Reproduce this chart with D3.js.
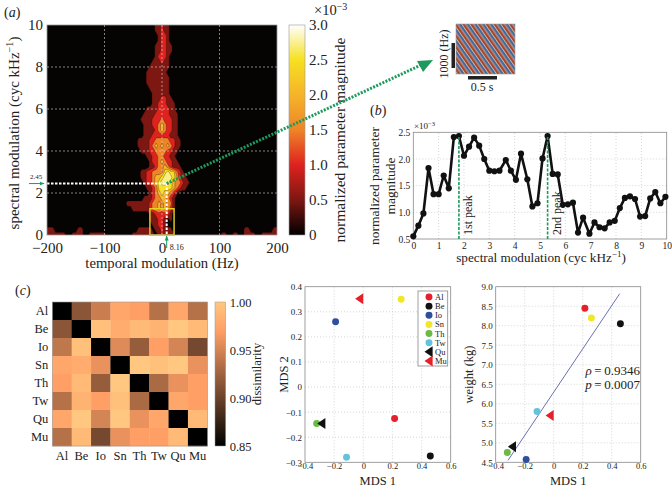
<!DOCTYPE html>
<html lang="en">
<head>
<meta charset="UTF-8">
<title>modulation chart</title>
<style>
  *{margin:0;padding:0;}
  body{background:#fff;}
  svg{display:block;}
  text{font-family:"Liberation Serif",serif;fill:#222;}
</style>
</head>
<body>
<div id="container"></div>
<script src="https://d3js.org/d3.v7.min.js"></script>
<script>
// panel a: levels in 0.5e-3 steps, rows from 10 down to 0 (0.25 step), columns -65..55 Hz (5 Hz step)
var coreHz = d3.range(-65, 60, 5)
var coreRows = [
  [0,0,0,0,0,0,0,0,0,0,0,1,1,2,1,1,0,0,0,0,0,0,0,0,0],
  [0,0,0,0,0,0,0,0,0,0,0,1,1,2,1,1,0,0,0,0,0,0,0,0,0],
  [0,0,0,0,0,0,0,0,0,0,0,0,1,2,2,1,0,0,0,0,0,0,0,0,0],
  [0,0,0,0,0,0,0,0,0,0,0,0,1,2,2,1,0,0,0,0,0,0,0,0,0],
  [0,0,0,0,0,0,0,0,0,0,0,1,1,2,2,1,1,0,0,0,0,0,0,0,0],
  [0,0,0,0,0,0,0,0,0,0,0,1,1,2,2,1,1,0,0,0,0,0,0,0,0],
  [0,0,0,0,0,0,0,0,0,0,0,1,2,2,2,1,0,0,0,0,0,0,0,0,0],
  [0,0,0,0,0,0,0,0,0,0,1,1,1,2,1,1,0,0,0,0,0,0,0,0,0],
  [0,0,0,0,0,0,0,0,0,1,1,1,1,1,1,1,0,0,0,0,0,0,0,0,0],
  [0,0,0,0,0,0,0,0,1,1,1,1,1,1,1,0,0,0,0,0,0,0,0,0,0],
  [0,0,0,0,0,0,0,0,1,1,1,1,1,1,1,1,0,0,0,0,0,0,0,0,0],
  [0,0,0,0,0,0,0,0,1,1,1,1,1,1,1,1,0,0,0,0,0,0,0,0,0],
  [0,0,0,0,0,0,0,0,0,1,1,1,1,1,1,1,0,0,0,0,0,0,0,0,0],
  [0,0,0,0,0,0,0,0,0,0,1,1,1,1,1,1,0,0,0,0,0,0,0,0,0],
  [0,0,0,0,0,0,0,0,0,0,1,1,1,2,2,1,1,0,0,0,0,0,0,0,0],
  [0,0,0,0,0,0,0,0,0,0,1,1,2,2,2,1,1,1,0,0,0,0,0,0,0],
  [0,0,0,0,0,0,0,0,1,1,1,1,2,2,2,2,1,1,0,0,0,0,0,0,0],
  [0,0,0,0,0,0,0,1,1,1,1,2,2,2,2,2,1,1,1,0,0,0,0,0,0],
  [0,0,0,0,0,0,1,1,1,1,2,2,2,3,2,2,2,1,1,0,0,0,0,0,0],
  [0,0,0,0,0,0,0,1,1,1,2,2,3,4,3,2,2,1,1,0,0,0,0,0,0],
  [0,0,0,0,0,0,0,1,1,1,1,2,3,4,3,2,2,1,1,0,0,0,0,0,0],
  [0,0,0,0,0,0,0,1,1,1,2,2,2,2,2,2,1,1,1,0,0,0,0,0,0],
  [0,0,0,0,0,1,1,1,1,2,2,3,3,3,3,3,2,2,1,1,0,0,0,0,0],
  [0,0,0,0,0,1,1,1,1,2,3,4,3,4,3,4,3,2,1,1,0,0,0,0,0],
  [0,0,0,0,0,0,1,1,1,2,2,3,3,3,3,2,2,1,1,0,0,0,0,0,0],
  [0,0,0,0,0,0,0,0,1,1,2,2,3,3,2,2,1,1,0,0,0,0,0,0,0],
  [0,0,0,0,0,0,0,0,0,1,2,2,3,4,3,2,2,1,1,0,0,0,0,0,0],
  [0,0,0,0,0,0,0,0,0,1,1,2,3,3,4,3,2,1,1,1,0,0,0,0,0],
  [0,0,0,0,0,0,1,1,2,2,3,3,3,3,5,6,5,5,3,2,1,0,0,0,0],
  [0,0,0,0,0,0,1,1,2,2,3,4,4,5,6,6,6,5,4,2,1,1,0,0,0],
  [0,0,0,0,0,0,0,1,2,2,3,4,5,6,6,6,5,4,3,3,2,1,1,0,0],
  [0,0,0,0,0,0,0,0,1,1,2,3,5,5,5,5,5,4,3,2,1,1,0,0,0],
  [0,0,0,0,0,0,0,0,0,1,2,3,4,5,4,4,3,2,1,0,0,0,0,0,0],
  [0,0,0,0,0,0,0,1,1,1,2,3,3,4,4,3,2,1,0,0,0,0,0,0,0],
  [0,1,1,1,1,1,1,1,1,2,3,3,4,3,4,3,3,1,0,0,0,0,0,0,0],
  [0,0,0,1,1,1,1,1,1,2,3,3,4,3,4,3,2,1,0,0,0,0,0,0,0],
  [0,0,0,0,0,0,0,0,0,1,1,2,2,2,2,2,1,0,0,0,0,0,0,0,0],
  [0,0,0,0,0,0,0,0,0,1,1,1,2,2,1,0,1,0,0,0,0,0,0,0,0],
  [0,0,0,0,0,0,0,0,0,0,1,1,2,2,1,0,0,0,0,0,0,0,0,0,0],
  [0,0,0,0,0,1,1,1,1,1,0,1,1,2,1,1,1,0,0,0,0,0,0,0,0],
  [0,0,0,1,1,1,1,1,1,1,1,0,1,2,1,1,1,1,0,0,0,0,0,0,0]
]
// low ridge along the bottom edge outside the core columns: rows of level 1 at each 10 Hz
var fringeHz = d3.range(-200, 210, 10)
var fringeTop = [2,2,1,1,0,1,2,0,1,1,1,0,0,0,0,0,0,0,0,0,0,0,0,0,0,0,0,0,0,0,0,1,0,1,0,2,1,0,1,1,2]

var timeTicks = [-200, -100, 0, 100, 200]
var freqTicks = [0, 2, 4, 6, 8, 10]
var barTicks = [0, 0.5, 1, 1.5, 2, 2.5, 3]
var bandThresholds = [0.25, 0.75, 1.25, 1.75, 2.25, 2.75]
var peakTime = 8.16
var peakFreq = 2.45

// panel b
var specX = [0,0.2,0.4,0.6,0.8,1,1.2,1.4,1.6,1.8,2,2.2,2.4,2.6,2.8,3,3.2,3.4,3.65,3.85,4.05,4.25,4.5,4.7,4.9,5.1,5.3,5.5,5.7,5.9,6.1,6.3,6.5,6.7,6.95,7.15,7.35,7.55,7.75,7.95,8.15,8.35,8.55,8.75,8.95,9.15,9.35,9.55,9.75,9.95]
var specY = [0.55,0.75,0.98,1.83,1.34,1.34,1.69,1.45,2.41,2.43,2.06,2.23,2.4,2.25,2,1.78,1.77,1.78,1.98,1.78,1.61,2.1,1.62,1.11,1.17,2.01,2.43,1.72,1.71,1.14,1.15,1.18,0.62,0.9,0.6,0.81,0.72,0.7,0.81,0.84,1.08,1.27,1.3,1.25,0.92,0.93,1.26,1.38,1.17,1.29]
var peakX = [1.8, 5.3]
var peakY = [2.43, 2.43]
var peakNames = ['1st peak', '2nd peak']

// panel c
var instruments = ['Al', 'Be', 'Io', 'Sn', 'Th', 'Tw', 'Qu', 'Mu']
var dissimilarity = [
  [0.85,0.915,0.945,0.975,0.97,0.935,0.975,0.935],
  [0.915,0.85,0.995,0.98,0.99,0.985,1,0.99],
  [0.94,0.995,0.85,0.955,0.92,0.97,0.95,0.905],
  [0.975,0.98,0.96,0.85,1,0.995,1,0.96],
  [0.97,0.99,0.92,1,0.85,0.93,0.96,0.97],
  [0.935,0.985,0.97,0.995,0.93,0.85,0.975,0.97],
  [0.975,1,0.95,1,0.96,0.975,0.85,0.99],
  [0.935,0.99,0.905,0.96,0.97,0.97,0.99,0.85]
]
var mds1 = [0.215, 0.46, -0.19, 0.26, -0.32, -0.115, -0.285, -0.025]
var mds2 = [-0.125, -0.275, 0.26, 0.35, -0.145, -0.28, -0.145, 0.352]
var weight = [8.45, 8.05, 4.57, 8.2, 4.75, 5.8, 4.9, 5.7]
var dotColors = ['#e5202a', '#111111', '#2d4f9e', '#f2e62a', '#6cb944', '#62c4dc', '#111111', '#e5202a']
var fitX = [-0.315, 0.455]
var fitY = [4.55, 8.82]

var minus = function (s) { return String(s).replace('-', '\u2212') }
var svg = d3.select('#container').append('svg').attr('width', 672).attr('height', 486)

// ---- panel a heatmap
var xA = d3.scaleLinear().domain([-200, 200]).range([47, 277])
var yA = d3.scaleLinear().domain([0, 10]).range([235, 25])
var heatColor = d3.scaleLinear()
  .domain(barTicks)
  .range(['#000000', '#7c1712', '#de221e', '#ee8428', '#f5b42a', '#f6e020', '#ffffff'])

var nCols = 81, nRows = coreRows.length
var grid = []
for (var r = 0; r < nRows; r++) {
  var fromBottom = nRows - 1 - r
  for (var c = 0; c < nCols; c++) {
    var hz = -200 + c * 5
    var ci = coreHz.indexOf(hz)
    var level = ci >= 0 ? coreRows[r][ci] : (fringeTop[Math.round((hz + 200) / 10)] > fromBottom ? 1 : 0)
    grid.push(level * 0.5)
  }
}
var toPlot = d3.geoPath(d3.geoTransform({
  point: function (x, y) {
    this.stream.point(xA(-200 + (x - 0.5) * 5), yA(10 - (y - 0.5) * 0.25))
  }
}))
svg.append('clipPath').attr('id', 'clipA').append('rect')
  .attr('x', xA(-200)).attr('y', yA(10)).attr('width', xA(200) - xA(-200)).attr('height', yA(0) - yA(10))
svg.append('rect').attr('x', xA(-200)).attr('y', yA(10))
  .attr('width', xA(200) - xA(-200)).attr('height', yA(0) - yA(10)).attr('fill', '#060303')
svg.append('g').attr('clip-path', 'url(#clipA)')
  .selectAll('path')
  .data(d3.contours().size([nCols, nRows]).thresholds(bandThresholds)(grid))
  .join('path')
  .attr('d', toPlot)
  .attr('fill', function (d) { return heatColor(Math.min(d.value + 0.25, 2.72)) })
  .attr('stroke', '#2a0a08')
  .attr('stroke-width', 0.3)

// dashed grid over the heatmap
svg.append('g').selectAll('line').data(timeTicks.slice(1, -1)).join('line')
  .attr('x1', xA).attr('x2', xA).attr('y1', yA(10)).attr('y2', yA(0))
  .attr('stroke', '#d8d8d8').attr('stroke-width', 0.6).attr('stroke-dasharray', '2,2')
svg.append('g').selectAll('line').data(freqTicks.slice(1, -1)).join('line')
  .attr('x1', xA(-200)).attr('x2', xA(200)).attr('y1', yA).attr('y2', yA)
  .attr('stroke', '#d8d8d8').attr('stroke-width', 0.6).attr('stroke-dasharray', '2,2')

// selection box and the peak cross
svg.append('rect').attr('x', xA(-21)).attr('y', yA(1.25)).attr('width', xA(21) - xA(-21)).attr('height', yA(0) - yA(1.25))
  .attr('fill', 'none').attr('stroke', '#e6d820').attr('stroke-width', 1.4)
svg.append('line').attr('x1', xA(-200)).attr('x2', xA(peakTime)).attr('y1', yA(peakFreq)).attr('y2', yA(peakFreq))
  .attr('stroke', '#fff').attr('stroke-width', 2).attr('stroke-dasharray', '2.5,1.5')
svg.append('line').attr('x1', xA(peakTime)).attr('x2', xA(peakTime)).attr('y1', yA(peakFreq)).attr('y2', yA(0))
  .attr('stroke', '#fff').attr('stroke-width', 2).attr('stroke-dasharray', '2.5,1.5')

svg.append('rect').attr('x', xA(-200)).attr('y', yA(10)).attr('width', xA(200) - xA(-200)).attr('height', yA(0) - yA(10))
  .attr('fill', 'none').attr('stroke', '#999').attr('stroke-width', 0.8)

var axisFont = 15
var axA = svg.append('g').attr('transform', 'translate(0,' + yA(0) + ')')
  .call(d3.axisBottom(xA).tickValues(timeTicks).tickSize(0).tickPadding(7).tickFormat(minus))
axA.select('.domain').remove()
axA.selectAll('text').attr('font-size', axisFont).attr('fill', '#222')
axA = svg.append('g').attr('transform', 'translate(' + xA(-200) + ',0)')
  .call(d3.axisLeft(yA).tickValues(freqTicks).tickSize(0).tickPadding(4))
axA.select('.domain').remove()
axA.selectAll('text').attr('font-size', axisFont).attr('fill', '#222')

function supLabel(g, before, sup, after, size) {
  var t = g.append('text').attr('text-anchor', 'middle').attr('font-size', size)
  t.append('tspan').text(before)
  t.append('tspan').attr('font-size', size * 0.68).attr('dy', -size * 0.38).text(sup)
  t.append('tspan').attr('dy', size * 0.38).text(after)
  return t
}
supLabel(svg, 'spectral modulation (cyc kHz', '\u22121', ')', 15)
  .attr('transform', 'translate(19,133) rotate(-90)')
svg.append('text').attr('x', 162).attr('y', 268).attr('text-anchor', 'middle').attr('font-size', 14.7)
  .text('temporal modulation (Hz)')
svg.append('text').attr('x', 4).attr('y', 17).attr('font-size', 14)
  .html('(<tspan font-style="italic">a</tspan>)')

// green markers of the peak
var green = '#1d9a5c'
svg.append('defs').append('marker').attr('id', 'tip').attr('viewBox', '0 0 10 10')
  .attr('refX', 9).attr('refY', 5).attr('markerWidth', 5).attr('markerHeight', 5).attr('orient', 'auto')
  .append('path').attr('d', 'M0,1L10,5L0,9Z').attr('fill', green)
svg.append('line').attr('x1', 29).attr('x2', 44).attr('y1', yA(peakFreq)).attr('y2', yA(peakFreq))
  .attr('stroke', green).attr('stroke-width', 1).attr('marker-end', 'url(#tip)')
svg.append('line').attr('x1', xA(peakTime)).attr('x2', xA(peakTime)).attr('y1', 248).attr('y2', 236)
  .attr('stroke', green).attr('stroke-width', 1).attr('marker-end', 'url(#tip)')
svg.append('text').attr('x', 36).attr('y', 179).attr('text-anchor', 'middle').attr('font-size', 7).attr('fill', '#3d7a5c').text(peakFreq)
svg.append('text').attr('x', xA(peakTime) + 3).attr('y', 250).attr('font-size', 8).attr('fill', '#555').text(peakTime)

// main colour bar
var defs = svg.append('defs')
var gradA = defs.append('linearGradient').attr('id', 'gradA').attr('x1', 0).attr('y1', 1).attr('x2', 0).attr('y2', 0)
gradA.selectAll('stop').data(barTicks).join('stop')
  .attr('offset', function (d) { return d / 3 }).attr('stop-color', heatColor)
var yBar = d3.scaleLinear().domain([0, 3]).range([235, 25])
svg.append('rect').attr('x', 289).attr('y', 25).attr('width', 16).attr('height', 210)
  .attr('fill', 'url(#gradA)').attr('stroke', '#999').attr('stroke-width', 0.6)
var axBar = svg.append('g').attr('transform', 'translate(305,0)')
  .call(d3.axisRight(yBar).tickValues(barTicks).tickSize(0).tickPadding(4)
    .tickFormat(function (d) { return d === 0 ? '0' : d3.format('.1f')(d) }))
axBar.select('.domain').remove()
axBar.selectAll('text').attr('font-size', axisFont).attr('fill', '#222')
var expText = svg.append('text').attr('x', 314).attr('y', 15).attr('font-size', 14.5)
expText.append('tspan').text('\u00d710')
expText.append('tspan').attr('font-size', 10).attr('dy', -5).text('\u22123')
svg.append('text').attr('transform', 'translate(345,140) rotate(-90)').attr('text-anchor', 'middle')
  .attr('font-size', 15.5).text('normalized parameter magnitude')

// long dotted arrow to the inset
svg.append('line').attr('x1', xA(peakTime)).attr('y1', yA(peakFreq)).attr('x2', 421).attr('y2', 65)
  .attr('stroke', green).attr('stroke-width', 3).attr('stroke-dasharray', '2,1.4')
svg.append('path').attr('d', 'M433,60L417,61L423,72Z').attr('fill', green)

// inset modulation patch
var stripe = defs.append('pattern').attr('id', 'stripes').attr('patternUnits', 'userSpaceOnUse')
  .attr('width', 6.4).attr('height', 6.4).attr('patternTransform', 'rotate(-35)')
stripe.append('rect').attr('width', 6.4).attr('height', 6.4).attr('fill', '#c8bfa8')
stripe.append('rect').attr('width', 2.3).attr('height', 6.4).attr('fill', '#a9432c')
stripe.append('rect').attr('x', 3.2).attr('width', 2.3).attr('height', 6.4).attr('fill', '#45669f')
svg.append('rect').attr('x', 456).attr('y', 24).attr('width', 59).attr('height', 50)
  .attr('fill', 'url(#stripes)').attr('stroke', '#9a9a9a').attr('stroke-width', 0.6)
svg.append('rect').attr('x', 451.5).attr('y', 43).attr('width', 3.5).attr('height', 25).attr('fill', '#222')
svg.append('rect').attr('x', 468).attr('y', 76).attr('width', 29).attr('height', 3.5).attr('fill', '#222')
svg.append('text').attr('transform', 'translate(448,54) rotate(-90)').attr('text-anchor', 'middle')
  .attr('font-size', 12).text('1000 (Hz)')
svg.append('text').attr('x', 482).attr('y', 91).attr('text-anchor', 'middle').attr('font-size', 12).text('0.5 s')

// ---- panel b
var xB = d3.scaleLinear().domain([0, 10]).range([413.3, 666.7])
var yB = d3.scaleLinear().domain([0.5, 2.5]).range([239, 132.3])
var gB = svg.append('g')
gB.selectAll('.gx').data(d3.range(1, 10)).join('line').attr('class', 'gx')
  .attr('x1', xB).attr('x2', xB).attr('y1', yB(0.5)).attr('y2', yB(2.5))
  .attr('stroke', '#bbb').attr('stroke-width', 0.6).attr('stroke-dasharray', '1,2')
gB.selectAll('.gy').data([1, 1.5, 2]).join('line').attr('class', 'gy')
  .attr('x1', xB(0)).attr('x2', xB(10)).attr('y1', yB).attr('y2', yB)
  .attr('stroke', '#bbb').attr('stroke-width', 0.6).attr('stroke-dasharray', '1,2')
gB.append('rect').attr('x', xB(0)).attr('y', yB(2.5)).attr('width', xB(10) - xB(0)).attr('height', yB(0.5) - yB(2.5))
  .attr('fill', 'none').attr('stroke', '#888').attr('stroke-width', 0.8)
var axB = gB.append('g').attr('transform', 'translate(0,' + yB(0.5) + ')')
  .call(d3.axisBottom(xB).ticks(10).tickSize(0).tickPadding(3))
axB.select('.domain').remove()
axB.selectAll('text').attr('font-size', 9.5).attr('fill', '#333')
axB = gB.append('g').attr('transform', 'translate(' + xB(0) + ',0)')
  .call(d3.axisLeft(yB).tickValues([0.5, 1, 1.5, 2, 2.5]).tickSize(0).tickPadding(3).tickFormat(d3.format('.1f')))
axB.select('.domain').remove()
axB.selectAll('text').attr('font-size', 9.5).attr('fill', '#333')

gB.append('path').datum(d3.zip(specX, specY))
  .attr('d', d3.line().x(function (d) { return xB(d[0]) }).y(function (d) { return yB(d[1]) }))
  .attr('fill', 'none').attr('stroke', '#111').attr('stroke-width', 2.6).attr('stroke-linejoin', 'round')
gB.selectAll('circle').data(d3.zip(specX, specY)).join('circle')
  .attr('cx', function (d) { return xB(d[0]) }).attr('cy', function (d) { return yB(d[1]) })
  .attr('r', 3.1).attr('fill', '#111')
peakX.forEach(function (px, i) {
  gB.append('line').attr('x1', xB(px)).attr('x2', xB(px)).attr('y1', yB(0.5)).attr('y2', yB(peakY[i]))
    .attr('stroke', green).attr('stroke-width', 1.6).attr('stroke-dasharray', '3,1.5')
  gB.append('text').attr('transform', 'translate(' + (xB(px) + 13) + ',235) rotate(-90)')
    .attr('font-size', 12).text(peakNames[i])
})
var expB = gB.append('text').attr('x', 414).attr('y', 129).attr('font-size', 9).attr('fill', '#333')
expB.append('tspan').text('\u00d710')
expB.append('tspan').attr('font-size', 6.5).attr('dy', -3).text('\u22123')
gB.append('text').attr('transform', 'translate(379,186) rotate(-90)').attr('text-anchor', 'middle')
  .attr('font-size', 13.5).text('normalized parameter')
gB.append('text').attr('transform', 'translate(395,186) rotate(-90)').attr('text-anchor', 'middle')
  .attr('font-size', 13.5).text('magnitude')
supLabel(gB, 'spectral modulation (cyc kHz', '\u22121', ')', 13.2)
  .attr('transform', 'translate(541,262)')
gB.append('text').attr('x', 370).attr('y', 115).attr('font-size', 14)
  .html('(<tspan font-style="italic">b</tspan>)')

// ---- panel c matrix
var xC = d3.scaleBand().domain(instruments).range([52.3, 207.3])
var yC = d3.scaleBand().domain(instruments).range([302, 446])
var copper = function (v) {
  var t = (v - 0.85) / 0.15
  return d3.rgb(255 * Math.min(1, 1.25 * t), 199 * t, 127 * t).formatHex()
}
var cells = []
dissimilarity.forEach(function (row, i) {
  row.forEach(function (v, j) { cells.push({ row: instruments[i], col: instruments[j], value: v }) })
})
svg.append('g').selectAll('rect').data(cells).join('rect')
  .attr('x', function (d) { return xC(d.col) }).attr('y', function (d) { return yC(d.row) })
  .attr('width', xC.bandwidth() + 0.3).attr('height', yC.bandwidth() + 0.3)
  .attr('fill', function (d) { return copper(d.value) })
svg.append('rect').attr('x', 52.3).attr('y', 302).attr('width', 155).attr('height', 144)
  .attr('fill', 'none').attr('stroke', '#999').attr('stroke-width', 0.6)
var axC = svg.append('g').attr('transform', 'translate(0,446)')
  .call(d3.axisBottom(xC).tickSize(0).tickPadding(5))
axC.select('.domain').remove()
axC.selectAll('text').attr('font-size', 12.5).attr('fill', '#222')
axC = svg.append('g').attr('transform', 'translate(52.3,0)')
  .call(d3.axisLeft(yC).tickSize(0).tickPadding(4))
axC.select('.domain').remove()
axC.selectAll('text').attr('font-size', 12.5).attr('fill', '#222')
svg.append('text').attr('x', 15).attr('y', 295).attr('font-size', 14)
  .html('(<tspan font-style="italic">c</tspan>)')

var cBarStops = d3.range(0.85, 1.001, 0.03)
var gradC = defs.append('linearGradient').attr('id', 'gradC').attr('x1', 0).attr('y1', 1).attr('x2', 0).attr('y2', 0)
gradC.selectAll('stop').data(cBarStops).join('stop')
  .attr('offset', function (d) { return (d - 0.85) / 0.15 }).attr('stop-color', copper)
var yCbar = d3.scaleLinear().domain([0.85, 1]).range([446, 302])
svg.append('rect').attr('x', 215).attr('y', 302).attr('width', 10.7).attr('height', 144)
  .attr('fill', 'url(#gradC)').attr('stroke', '#999').attr('stroke-width', 0.5)
var axCb = svg.append('g').attr('transform', 'translate(225.7,0)')
  .call(d3.axisRight(yCbar).tickValues([0.85, 0.9, 0.95, 1]).tickSize(0).tickPadding(4).tickFormat(d3.format('.2f')))
axCb.select('.domain').remove()
axCb.selectAll('text').attr('font-size', 12.5).attr('fill', '#222')
svg.append('text').attr('transform', 'translate(261,374) rotate(-90)').attr('text-anchor', 'middle')
  .attr('font-size', 12.5).text('dissimilarity')

// ---- scatter panels
function scatterBox(xS, yS, yTicks, yFmt, xName, yName, yNameX) {
  var g = svg.append('g')
  var xT = [-0.4, -0.2, 0, 0.2, 0.4, 0.6]
  g.selectAll('.gx').data(xT.slice(1, -1)).join('line').attr('class', 'gx')
    .attr('x1', xS).attr('x2', xS).attr('y1', yS.range()[0]).attr('y2', yS.range()[1])
    .attr('stroke', '#bbb').attr('stroke-width', 0.6).attr('stroke-dasharray', '1,2')
  g.selectAll('.gy').data(yTicks.slice(1, -1)).join('line').attr('class', 'gy')
    .attr('x1', xS.range()[0]).attr('x2', xS.range()[1]).attr('y1', yS).attr('y2', yS)
    .attr('stroke', '#bbb').attr('stroke-width', 0.6).attr('stroke-dasharray', '1,2')
  g.append('rect').attr('x', xS.range()[0]).attr('y', yS.range()[1])
    .attr('width', xS.range()[1] - xS.range()[0]).attr('height', yS.range()[0] - yS.range()[1])
    .attr('fill', 'none').attr('stroke', '#888').attr('stroke-width', 0.8)
  var ax = g.append('g').attr('transform', 'translate(0,' + yS.range()[0] + ')')
    .call(d3.axisBottom(xS).tickValues(xT).tickSize(0).tickPadding(1)
      .tickFormat(function (d) { return minus(d === 0 ? '0' : d3.format('.1f')(d)) }))
  ax.select('.domain').remove()
  ax.selectAll('text').attr('font-size', 8.5).attr('fill', '#333')
  ax = g.append('g').attr('transform', 'translate(' + xS.range()[0] + ',0)')
    .call(d3.axisLeft(yS).tickValues(yTicks).tickSize(0).tickPadding(3).tickFormat(yFmt))
  ax.select('.domain').remove()
  ax.selectAll('text').attr('font-size', 9).attr('fill', '#333')
  g.append('text').attr('x', (xS.range()[0] + xS.range()[1]) / 2).attr('y', 484.5)
    .attr('text-anchor', 'middle').attr('font-size', 12.5).text(xName)
  g.append('text').attr('transform', 'translate(' + yNameX + ',' + (yS.range()[0] + yS.range()[1]) / 2 + ') rotate(-90)')
    .attr('text-anchor', 'middle').attr('font-size', 12.5).text(yName)
  return g
}
function drawMarks(g, px, py) {
  g.selectAll('.mark').data(instruments).join(function (enter) {
    return enter.append('path').attr('class', 'mark')
  })
    .attr('transform', function (d, i) { return 'translate(' + px(i) + ',' + py(i) + ')' })
    .attr('d', function (d) {
      return d === 'Qu' || d === 'Mu' ? 'M-4.5,0L3.6,-5.5L3.6,5.5Z' : d3.symbol().type(d3.symbolCircle).size(38)()
    })
    .attr('fill', function (d, i) { return dotColors[i] })
}
var xM1 = d3.scaleLinear().domain([-0.4, 0.6]).range([305, 450.7])
var yM1 = d3.scaleLinear().domain([-0.3, 0.4]).range([462.3, 286.7])
var gM1 = scatterBox(xM1, yM1, [-0.3, -0.2, -0.1, 0, 0.1, 0.2, 0.3, 0.4],
  function (d) { return minus(d === 0 ? '0' : d3.format('.1f')(d)) }, 'MDS 1', 'MDS 2', 288)
drawMarks(gM1, function (i) { return xM1(mds1[i]) }, function (i) { return yM1(mds2[i]) })

// legend
var yLeg = d3.scalePoint().domain(instruments).range([297, 361])
var leg = svg.append('g')
leg.append('rect').attr('x', 418).attr('y', 291).attr('width', 29.7).attr('height', 75)
  .attr('fill', '#fff').attr('stroke', '#888').attr('stroke-width', 0.8)
drawMarks(leg, function () { return 429 }, function (i) { return yLeg(instruments[i]) })
leg.selectAll('text').data(instruments).join('text')
  .attr('x', 435).attr('y', function (d) { return yLeg(d) + 3 })
  .attr('font-size', 8.5).attr('fill', '#333').text(function (d) { return d })

var xM2 = d3.scaleLinear().domain([-0.4, 0.6]).range([495.7, 640.7])
var yM2 = d3.scaleLinear().domain([4.5, 9]).range([462.3, 286.7])
var gM2 = scatterBox(xM2, yM2, d3.range(4.5, 9.1, 0.5), d3.format('.1f'), 'MDS 1', 'weight (kg)', 473)
gM2.append('line').attr('x1', xM2(fitX[0])).attr('x2', xM2(fitX[1])).attr('y1', yM2(fitY[0])).attr('y2', yM2(fitY[1]))
  .attr('stroke', '#6a70b0').attr('stroke-width', 1)
drawMarks(gM2, function (i) { return xM2(mds1[i]) }, function (i) { return yM2(weight[i]) })
gM2.append('text').attr('x', 640).attr('y', 375).attr('text-anchor', 'end').attr('font-size', 13)
  .html('<tspan font-style="italic">\u03c1</tspan>\u2009=\u20090.9346')
gM2.append('text').attr('x', 640).attr('y', 389).attr('text-anchor', 'end').attr('font-size', 13)
  .html('<tspan font-style="italic">p</tspan>\u2009=\u20090.0007')
</script>
</body>
</html>
